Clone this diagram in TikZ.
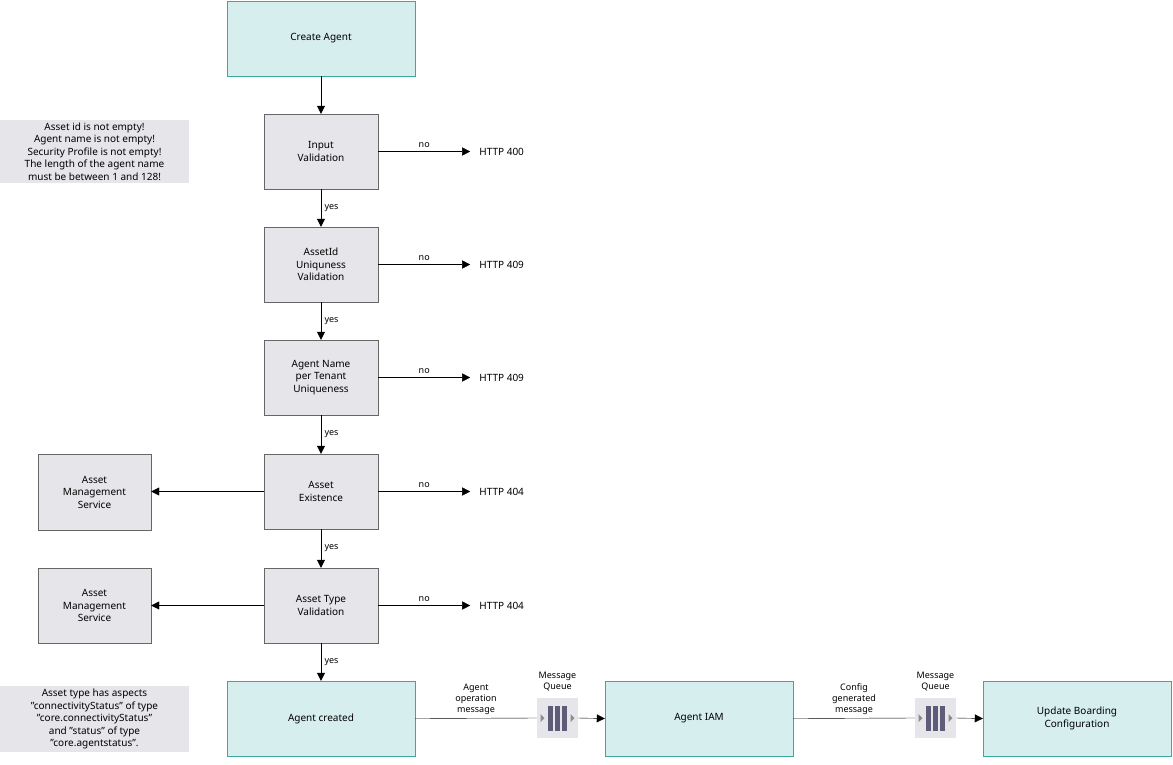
\documentclass[tikz,border=0pt]{standalone}
\usepackage{fontspec}
\setmainfont{Noto Sans}
\usetikzlibrary{arrows.meta}
\definecolor{teal}{HTML}{D7EEEF}
\definecolor{tealb}{HTML}{3AA9A0}
\definecolor{grayf}{HTML}{E6E6EA}
\definecolor{qbar}{HTML}{5E5C78}
\begin{document}
\begin{tikzpicture}[x=1pt,y=-1pt,
 every node/.style={font=\fontsize{10}{12.5}\selectfont},
 tb/.style={draw=tealb,fill=teal,minimum width=188pt,minimum height=75pt,align=center,inner sep=0},
 gb/.style={draw=black!60,fill=grayf,minimum width=114pt,minimum height=75pt,align=center,inner sep=0},
 note/.style={fill=grayf,minimum width=189pt,align=center,inner sep=3pt},
 arr/.style={-{Triangle[length=8pt,width=8pt]}},
 lab/.style={font=\fontsize{9}{11}\selectfont,align=center}]
\useasboundingbox (0,0) rectangle (1173,764);
\node[tb] (create) at (321,38.5) {Create Agent};
\node[gb] (iv) at (321,151.5) {Input\\Validation};
\node[gb] (au) at (321,264.5) {AssetId\\Uniquness\\Validation};
\node[gb] (an) at (321,377.5) {Agent Name\\per Tenant\\Uniqueness};
\node[gb] (ae) at (321,491.5) {Asset\\Existence};
\node[gb] (at) at (321,605.5) {Asset Type\\Validation};
\node[tb] (ac) at (321,718.5) {Agent created};
\node[tb] (iam) at (699,718.5) {Agent IAM};
\node[tb] (ub) at (1077,718.5) {Update Boarding\\Configuration};
\node[gb,minimum width=113pt,minimum height=76pt] (ams1) at (94.5,492) {Asset\\Management\\Service};
\node[gb,minimum width=113pt] (ams2) at (94.5,605.5) {Asset\\Management\\Service};
\node[note] (n1) at (94.5,151.5) {Asset id is not empty!\\Agent name is not empty!\\Security Profile is not empty!\\The length of the agent name\\must be between 1 and 128!};
\node[note] (n2) at (94.5,719) {Asset type has aspects\\"connectivityStatus" of type\\"core.connectivityStatus"\\and "status" of type\\"core.agentstatus".};
\foreach \n/\t in {iv/400,au/409,an/409,ae/404,at/404}{
 \coordinate (e\n) at ([xshift=92pt]\n.east);
 \node[anchor=west,inner sep=0] (h\n) at ([xshift=9pt]e\n) {HTTP \t};
 \draw[arr] (\n.east) -- node[lab,above] {no} (e\n);
}
\draw[arr] (create) -- (iv);
\draw[arr] (iv) -- node[lab,right] {yes} (au);
\draw[arr] (au) -- node[lab,right] {yes} (an);
\draw[arr] (an) -- node[lab,right] {yes} (ae);
\draw[arr] (ae) -- node[lab,right] {yes} (at);
\draw[arr] (at) -- node[lab,right] {yes} (ac);
\draw[arr,{Triangle[length=8pt,width=8pt]}-] (ams1.east|-ae) -- (ae.west);
\draw[arr,{Triangle[length=8pt,width=8pt]}-] (ams2.east|-at) -- (at.west);
\foreach \q/\x in {q1/557.5,q2/935.5}{
 \node[fill=grayf,minimum width=41pt,minimum height=40pt,inner sep=0] (\q) at (\x,718) {};
 \foreach \dx in {-7,0,7} \fill[qbar] (\x+\dx-2.5,706) rectangle (\x+\dx+2.5,731);
 \fill[black!45] (\x-17,714) -- (\x-13,718) -- (\x-17,722) -- cycle;
 \fill[black!45] (\x+13,714) -- (\x+17,718) -- (\x+13,722) -- cycle;
 \node[lab] at (\x,682) {Message\\Queue};
}
\draw (ac.east) -- node[lab,above] {Agent\\operation\\message} (q1.west);
\draw[arr] (q1.east) -- (iam.west);
\draw (iam.east) -- node[lab,above] {Config\\generated\\message} (q2.west);
\draw[arr] (q2.east) -- (ub.west);
\end{tikzpicture}
\end{document}
